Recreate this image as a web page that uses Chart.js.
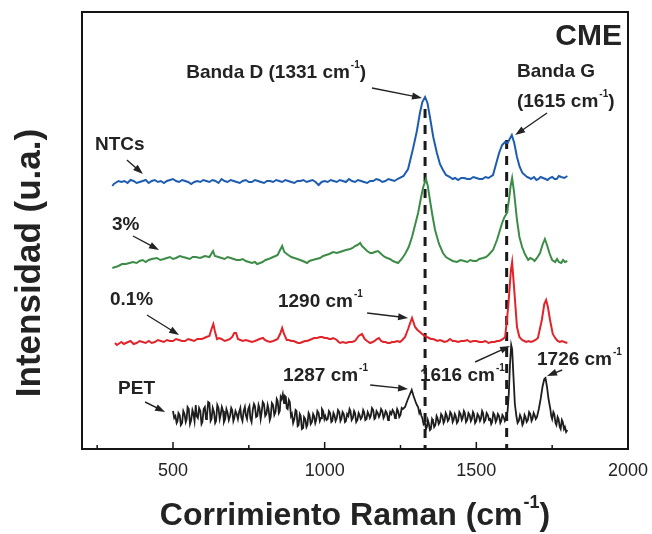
<!DOCTYPE html>
<html>
<head>
<meta charset="utf-8">
<script src="https://cdn.jsdelivr.net/npm/chart.js@4.4.1/dist/chart.umd.min.js"></script>
<style>
  html, body { margin: 0; padding: 0; background: #fff; }
</style>
</head>
<body>
<canvas id="myChart" width="652" height="534"></canvas>
<script>
// Raman spectra, [shift (cm-1), intensity (u.a., offset)]
const ntcs = [
  [300,263],[305,265],[310,266],[320,268],[330,267],[340,268],[350,266],[360,269],[370,268],[380,266],
  [390,267],[400,268],[410,269],[420,266],[430,268],[440,269],[450,267],[460,268],[470,266],[480,268],
  [490,269],[500,270],[510,268],[520,267],[530,269],[540,268],[550,267],[560,265],[570,267],[580,268],
  [590,267],[600,269],[610,268],[620,267],[630,269],[640,268],[650,266],[660,270],[670,268],[680,267],
  [690,269],[700,268],[710,267],[720,266],[730,268],[740,269],[750,267],[760,267],[770,269],[780,268],
  [790,267],[800,266],[810,268],[820,268],[830,267],[840,269],[850,268],[860,267],[870,269],[880,268],
  [890,267],[900,266],[910,268],[920,268],[930,269],[940,267],[950,268],[960,269],[970,267],[980,264],
  [990,267],[1000,268],[1010,267],[1020,269],[1030,268],[1040,267],[1050,269],[1060,268],[1070,267],
  [1080,270],[1090,268],[1100,267],[1110,269],[1120,268],[1130,267],[1140,266],[1150,268],[1160,268],
  [1170,270],[1180,269],[1190,267],[1200,268],[1210,270],[1220,269],[1230,268],[1240,270],
  [1260,273],[1275,280],[1291,300],[1304,318],[1314,336],[1322,347],[1331,352],[1339,346],[1347,332],
  [1358,312],[1370,296],[1380,285],[1390,279],[1400,274],[1413,272],[1422,270],[1430,271],[1440,269],
  [1450,271],[1460,271],[1470,270],[1480,270],[1490,272],[1500,271],[1510,270],[1520,270],[1530,272],
  [1540,271],[1555,274],[1565,285],[1575,296],[1585,304],[1595,307],[1603,306],[1610,310],[1617,314],
  [1625,306],[1634,292],[1643,282],[1652,276],[1667,272],[1675,271],[1680,270],[1690,272],[1698,269],
  [1705,270],[1712,272],[1720,271],[1728,270],[1735,269],[1742,271],[1750,272],[1758,270],[1765,270],
  [1772,273],[1780,272],[1790,271],[1800,273]
];
const cnt3 = [
  [300,181],[310,182],[320,183],[332,185],[345,185],[356,186],[368,187],[380,186],[390,188],[400,189],
  [410,187],[420,189],[430,190],[447,191],[458,189],[470,190],[480,191],[490,192],[500,190],[510,191],
  [522,193],[533,192],[545,191],[555,190],[565,192],[575,192],[589,191],[598,192],[605,193],[620,192],
  [628,196],[632,198],[638,193],[650,192],[660,191],[670,190],[680,192],[690,191],[700,190],[710,189],
  [721,189],[730,190],[740,188],[750,187],[760,186],[770,187],[777,185],[787,186],[795,187],[805,189],
  [815,190],[823,191],[830,192],[838,193],[845,194],[853,199],[860,203],[867,197],[880,194],[890,192],
  [900,191],[910,190],[919,189],[928,188],[935,187],[942,186],[950,188],[960,189],[972,190],[985,191],
  [995,193],[1005,194],[1015,195],[1028,197],[1040,196],[1050,197],[1060,198],[1070,199],[1084,200],
  [1092,201],[1100,203],[1108,204],[1117,206],[1123,203],[1130,201],[1140,198],[1150,196],[1158,196],
  [1165,197],[1176,198],[1183,196],[1190,194],[1198,192],[1206,191],[1215,190],[1225,188],[1233,187],
  [1242,186],[1254,190],[1265,195],[1277,202],[1288,212],[1298,224],[1308,236],[1318,252],[1325,262],
  [1334,270],[1340,263],[1347,249],[1355,234],[1364,219],[1377,205],[1390,196],[1400,192],[1410,190],
  [1422,188],[1436,187],[1448,189],[1460,188],[1470,187],[1480,189],[1490,188],[1500,188],[1510,190],
  [1522,191],[1532,192],[1540,194],[1555,199],[1568,209],[1577,218],[1585,226],[1593,232],[1601,236],
  [1608,250],[1613,263],[1618,271],[1624,258],[1634,229],[1642,212],[1651,202],[1660,195],[1671,189],
  [1678,191],[1685,190],[1692,188],[1700,191],[1710,196],[1718,204],[1726,210],[1733,204],[1742,195],
  [1750,189],[1760,187],[1766,190],[1772,187],[1780,186],[1786,189],[1792,187],[1800,188]
];
const cnt01 = [
  [309,106],[315,104],[320,105],[330,107],[338,105],[345,106],[352,107],[360,108],[370,105],[380,106],
  [390,108],[400,107],[410,106],[420,108],[430,106],[440,107],[450,109],[460,108],[470,107],[480,109],
  [490,108],[500,108],[510,110],[520,109],[530,108],[540,108],[550,110],[560,109],[570,108],[580,110],
  [595,110],[603,111],[610,112],[620,113],[627,120],[633,125],[638,118],[645,110],[652,111],[660,110],
  [670,108],[680,109],[688,110],[695,112],[702,116],[708,116],[714,110],[722,109],[730,108],[740,109],
  [750,108],[760,107],[770,108],[778,109],[785,110],[797,111],[803,109],[810,108],[820,107],[830,108],
  [838,109],[845,110],[853,115],[860,121],[866,115],[875,109],[882,109],[890,108],[898,108],[905,107],
  [912,106],[919,106],[927,107],[935,108],[942,108],[950,109],[958,110],[965,111],[975,111],[985,112],
  [992,112],[1000,111],[1008,111],[1015,110],[1022,110],[1028,111],[1035,110],[1040,109],[1046,107],
  [1051,106],[1060,107],[1070,106],[1080,107],[1090,107],[1100,108],[1112,113],[1123,115],[1132,110],
  [1140,108],[1150,106],[1158,107],[1165,108],[1172,110],[1179,111],[1186,108],[1193,107],[1200,107],
  [1208,106],[1215,106],[1222,107],[1230,107],[1240,108],[1248,107],[1256,109],[1265,112],[1275,120],
  [1283,127],[1288,131],[1298,122],[1306,119],[1314,117],[1325,114],[1337,112],[1344,111],[1350,110],
  [1358,110],[1365,109],[1372,108],[1380,109],[1388,108],[1395,107],[1405,108],[1413,110],[1422,108],
  [1430,108],[1440,107],[1450,108],[1460,108],[1470,109],[1480,107],[1490,108],[1500,108],[1510,107],
  [1520,107],[1530,108],[1540,106],[1550,107],[1560,107],[1568,108],[1575,108],[1582,109],[1588,110],
  [1595,112],[1605,142],[1614,179],[1618,187],[1625,159],[1634,122],[1642,112],[1651,109],[1658,108],
  [1665,107],[1672,108],[1680,107],[1688,108],[1695,109],[1703,111],[1716,129],[1724,145],[1730,149],
  [1736,142],[1743,129],[1752,115],[1760,111],[1768,108],[1775,107],[1782,108],[1790,107],[1800,106]
];
const pet = [
  [500,38],[504,31],[508,33],[512,26],[515,28],[518,36],[522,34],[526,24],[530,26],[534,38],[538,35],
  [542,27],[545,30],[548,42],[552,40],[556,25],[560,29],[564,39],[567,36],[571,28],[575,44],[578,33],
  [582,31],[586,41],[590,38],[594,25],[597,27],[601,40],[605,42],[609,30],[612,33],[616,47],[620,46],
  [624,28],[627,30],[631,41],[635,37],[639,26],[642,28],[646,44],[650,41],[654,30],[657,34],[661,42],
  [665,38],[668,27],[672,30],[676,40],[680,36],[684,29],[688,33],[692,41],[695,39],[699,28],[702,31],
  [706,38],[710,35],[714,30],[718,37],[722,41],[725,32],[729,28],[733,38],[737,42],[740,34],[744,30],
  [748,40],[752,43],[755,31],[759,27],[763,39],[767,45],[770,43],[774,32],[778,33],[782,44],[785,41],
  [789,30],[792,36],[796,47],[800,45],[804,33],[808,35],[812,44],[815,40],[819,29],[822,32],[826,46],
  [830,44],[834,34],[838,37],[842,50],[845,48],[849,36],[852,38],[855,52],[858,50],[862,55],[866,46],
  [869,53],[872,52],[875,41],[878,40],[882,49],[885,47],[889,33],[892,35],[896,26],[900,30],[904,39],
  [907,38],[911,23],[914,24],[918,35],[921,33],[925,20],[929,21],[932,32],[936,30],[940,22],[943,24],
  [947,36],[950,34],[954,25],[958,27],[962,35],[965,33],[969,26],[972,29],[976,38],[980,36],[984,28],
  [988,31],[991,40],[995,38],[999,30],[1002,33],[1006,29],[1010,30],[1014,38],[1018,36],[1022,27],
  [1025,28],[1029,36],[1032,34],[1036,28],[1040,31],[1044,39],[1048,37],[1052,28],[1055,30],[1059,37],
  [1063,35],[1067,27],[1070,28],[1074,35],[1078,33],[1082,40],[1085,38],[1089,29],[1093,31],[1097,38],
  [1100,36],[1104,27],[1108,29],[1112,36],[1115,34],[1119,30],[1123,32],[1127,39],[1130,37],[1134,29],
  [1138,30],[1142,37],[1145,35],[1149,31],[1152,33],[1156,41],[1160,39],[1164,30],[1167,31],[1171,38],
  [1175,36],[1179,32],[1182,34],[1186,40],[1190,38],[1194,31],[1197,33],[1201,38],[1205,36],[1209,29],
  [1212,31],[1216,37],[1220,35],[1224,39],[1228,37],[1232,31],[1235,33],[1239,40],[1242,38],[1246,32],
  [1250,34],[1254,41],[1258,40],[1265,42],[1272,48],[1280,54],[1287,59],[1293,53],[1300,47],[1304,44],
  [1308,42],[1312,36],[1315,38],[1319,33],[1322,31],[1326,25],[1330,27],[1334,20],[1337,22],[1340,29],
  [1343,26],[1347,19],[1350,20],[1354,30],[1357,28],[1361,22],[1365,24],[1369,33],[1372,31],[1376,25],
  [1380,27],[1384,35],[1388,33],[1392,26],[1395,28],[1399,36],[1402,34],[1406,28],[1410,30],[1414,37],
  [1418,35],[1422,27],[1425,29],[1429,35],[1432,33],[1436,26],[1440,28],[1444,37],[1448,35],[1452,29],
  [1455,31],[1459,38],[1462,36],[1466,27],[1470,29],[1474,36],[1478,34],[1482,28],[1485,30],[1489,37],
  [1492,35],[1496,26],[1500,28],[1504,35],[1508,33],[1512,28],[1515,30],[1519,38],[1522,36],[1526,27],
  [1530,29],[1534,36],[1538,34],[1542,29],[1545,31],[1549,25],[1552,27],[1556,36],[1560,34],[1564,27],
  [1567,29],[1571,35],[1575,33],[1579,26],[1582,28],[1586,34],[1590,32],[1594,28],[1597,30],[1600,34],
  [1603,38],[1607,55],[1611,85],[1615,104],[1618,100],[1622,75],[1627,45],[1632,33],[1636,26],[1640,28],
  [1644,34],[1648,31],[1652,24],[1655,26],[1659,34],[1662,32],[1666,27],[1670,29],[1674,37],[1678,35],
  [1682,28],[1685,30],[1689,36],[1692,34],[1696,30],[1700,32],[1706,40],[1712,50],[1718,62],[1724,70],
  [1728,71],[1733,62],[1738,50],[1744,40],[1747,33],[1750,30],[1754,37],[1757,35],[1761,26],[1764,24],
  [1768,32],[1771,30],[1775,22],[1778,20],[1782,29],[1785,27],[1789,20],[1792,22],[1796,17],[1800,19]
];
// dashed guide lines at band D and band G
const bandD = [[1331,340],[1331,0]];
const bandG = [[1600,309],[1600,0]];

const xTicks = [500, 1000, 1500, 2000];
const xMinorTicks = [250, 750, 1250, 1750];

// text labels: [text, superscript, tail, x, y, align, size]
const labels = [
  ['Banda D (1331 cm', '-1', ')', 840, 376, 'center', 19],
  ['Banda G', '', '', 1634, 377, 'left', 19],
  ['(1615 cm', '-1', ')', 1634, 347, 'left', 19],
  ['NTCs', '', '', 243, 304, 'left', 19],
  ['3%', '', '', 299, 224, 'left', 19],
  ['0.1%', '', '', 292, 149, 'left', 19],
  ['1290 cm', '-1', '', 846, 147, 'left', 19],
  ['1287 cm', '-1', '', 863, 73, 'left', 19],
  ['PET', '', '', 319, 60, 'left', 19],
  ['1616 cm', '-1', '', 1314, 73, 'left', 19],
  ['1726 cm', '-1', '', 1700, 89, 'left', 19],
];
// arrows: [fromX, fromY, toX, toY]
const arrows = [
  [1156, 361, 1321, 351],
  [1733, 336, 1628, 314],
  [348, 289, 401, 275],
  [368, 213, 454, 199],
  [414, 134, 520, 114],
  [1140, 136, 1275, 131],
  [1150, 64, 1275, 60],
  [408, 47, 474, 37],
  [1496, 87, 1611, 103],
  [1783, 79, 1733, 73],
];

const FONT = '"Liberation Sans", Arial, sans-serif';
const INK = '#232323';

const toPts = arr => arr.map(p => ({ x: p[0], y: p[1] }));

function drawSupText(ctx, main, sup, tail, x, y, align, size) {
  const big = 'bold ' + size + 'px ' + FONT;
  const small = 'bold ' + Math.round(size * 0.55) + 'px ' + FONT;
  ctx.font = big;
  const w1 = ctx.measureText(main).width;
  const w3 = ctx.measureText(tail).width;
  ctx.font = small;
  const w2 = sup ? ctx.measureText(sup).width + 1 : 0;
  const total = w1 + w2 + w3;
  let x0 = x;
  if (align === 'center') x0 = x - total / 2;
  if (align === 'right') x0 = x - total;
  ctx.textAlign = 'left';
  ctx.textBaseline = 'middle';
  ctx.fillStyle = INK;
  ctx.font = big;
  ctx.fillText(main, x0, y);
  if (sup) {
    ctx.font = small;
    ctx.fillText(sup, x0 + w1 + 1, y - size * 0.4);
  }
  ctx.font = big;
  ctx.fillText(tail, x0 + w1 + w2, y);
}

function drawArrow(ctx, x1, y1, x2, y2) {
  const ang = Math.atan2(y2 - y1, x2 - x1);
  const hl = 10, hw = 3.5;
  ctx.strokeStyle = INK;
  ctx.fillStyle = INK;
  ctx.lineWidth = 1.4;
  ctx.beginPath();
  ctx.moveTo(x1, y1);
  ctx.lineTo(x2 - Math.cos(ang) * hl * 0.8, y2 - Math.sin(ang) * hl * 0.8);
  ctx.stroke();
  ctx.beginPath();
  ctx.moveTo(x2, y2);
  ctx.lineTo(x2 - Math.cos(ang) * hl - Math.sin(ang) * hw, y2 - Math.sin(ang) * hl + Math.cos(ang) * hw);
  ctx.lineTo(x2 - Math.cos(ang) * hl + Math.sin(ang) * hw, y2 - Math.sin(ang) * hl - Math.cos(ang) * hw);
  ctx.closePath();
  ctx.fill();
}

const decorations = {
  id: 'decorations',
  afterDraw(chart) {
    const { ctx, chartArea: a, scales: { x, y } } = chart;
    ctx.save();
    // frame
    ctx.strokeStyle = '#151515';
    ctx.lineWidth = 2;
    ctx.strokeRect(a.left, a.top, a.right - a.left, a.bottom - a.top);
    // inward ticks
    ctx.lineWidth = 1.5;
    ctx.beginPath();
    xTicks.forEach(v => {
      const px = x.getPixelForValue(v);
      ctx.moveTo(px, a.bottom);
      ctx.lineTo(px, a.bottom - 7);
    });
    xMinorTicks.forEach(v => {
      const px = x.getPixelForValue(v);
      ctx.moveTo(px, a.bottom);
      ctx.lineTo(px, a.bottom - 4);
    });
    ctx.stroke();
    // CME tag
    ctx.fillStyle = INK;
    ctx.font = 'bold 30px ' + FONT;
    ctx.textAlign = 'right';
    ctx.textBaseline = 'middle';
    ctx.fillText('CME', x.getPixelForValue(1980), y.getPixelForValue(412));
    // labels and arrows
    labels.forEach(l => drawSupText(ctx, l[0], l[1], l[2], x.getPixelForValue(l[3]), y.getPixelForValue(l[4]), l[5], l[6]));
    arrows.forEach(r => drawArrow(ctx, x.getPixelForValue(r[0]), y.getPixelForValue(r[1]), x.getPixelForValue(r[2]), y.getPixelForValue(r[3])));
    // axis titles
    drawSupText(ctx, 'Corrimiento Raman (cm', '-1', ')', (a.left + a.right) / 2, 516, 'center', 32);
    ctx.save();
    ctx.translate(30, 263);
    ctx.rotate(-Math.PI / 2);
    drawSupText(ctx, 'Intensidad (u.a.)', '', '', 0, 0, 'center', 35);
    ctx.restore();
    ctx.restore();
  }
};

const line = (data, color, extra) => Object.assign({
  data: toPts(data),
  borderColor: color,
  borderWidth: 2,
  pointRadius: 0,
  tension: 0,
  fill: false,
  order: 1,
}, extra || {});

new Chart(document.getElementById('myChart').getContext('2d'), {
  type: 'line',
  data: {
    datasets: [
      line(ntcs, '#1d5caf'),
      line(cnt3, '#3c8c48'),
      line(cnt01, '#e0242a'),
      line(pet, '#1e1e1e', { borderWidth: 1.8 }),
      line(bandD, '#1a1a1a', { borderWidth: 3, borderDash: [9, 7], order: 5 }),
      line(bandG, '#1a1a1a', { borderWidth: 3, borderDash: [9, 7], order: 5 }),
    ],
  },
  options: {
    responsive: false,
    animation: false,
    layout: { padding: { top: 12, right: 24, left: 82, bottom: 0 } },
    plugins: { legend: { display: false }, tooltip: { enabled: false } },
    scales: {
      x: {
        type: 'linear',
        min: 200,
        max: 2000,
        afterBuildTicks: s => { s.ticks = xTicks.map(v => ({ value: v })); },
        afterFit: s => { s.height = 85; s.paddingLeft = 0; s.paddingRight = 0; },
        ticks: {
          font: { family: FONT, size: 18 }, color: INK, padding: 11, maxRotation: 0, autoSkip: false,
          callback: v => String(v),
        },
        grid: { display: false, drawTicks: false },
        border: { display: false },
      },
      y: { display: false, min: 0, max: 437 },
    },
  },
  plugins: [decorations],
});
</script>
</body>
</html>
